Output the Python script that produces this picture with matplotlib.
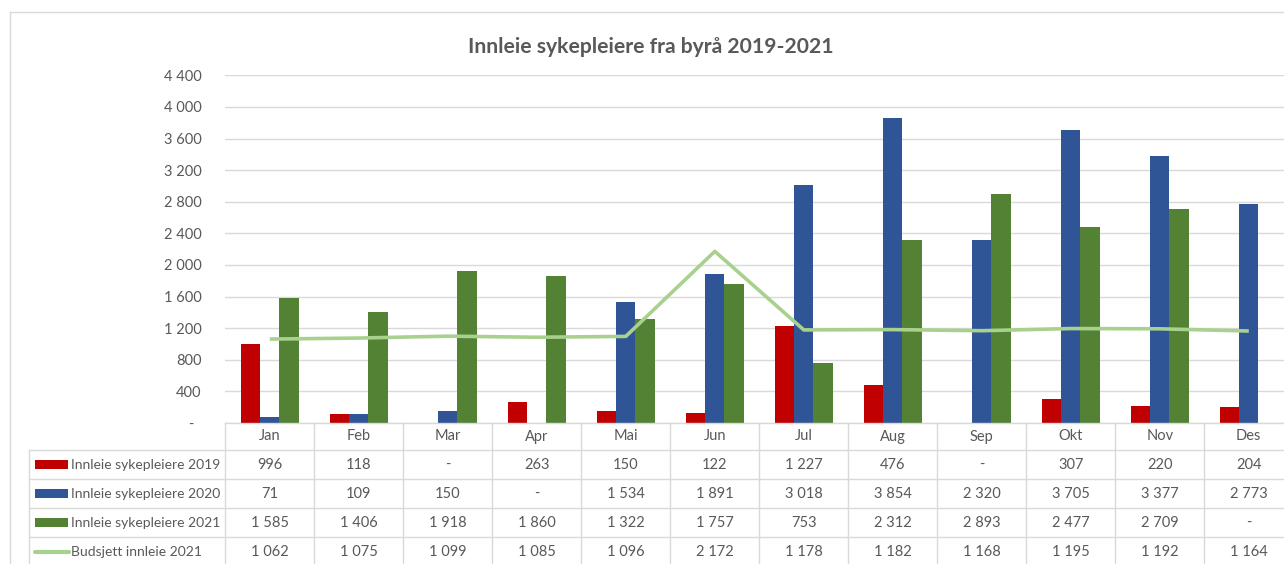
import numpy as np
import matplotlib
matplotlib.use('Agg')
import matplotlib.pyplot as plt
from matplotlib.patches import Rectangle
from matplotlib.lines import Line2D
import matplotlib.transforms as mtrans

plt.rcParams['font.family'] = ['Lato', 'DejaVu Sans']

maaneder = ['Jan', 'Feb', 'Mar', 'Apr', 'Mai', 'Jun', 'Jul', 'Aug', 'Sep', 'Okt', 'Nov', 'Des']
s2019 = [996, 118, np.nan, 263, 150, 122, 1227, 476, np.nan, 307, 220, 204]
s2020 = [71, 109, 150, np.nan, 1534, 1891, 3018, 3854, 2320, 3705, 3377, 2773]
s2021 = [1585, 1406, 1918, 1860, 1322, 1757, 753, 2312, 2893, 2477, 2709, np.nan]
budsjett = [1062, 1075, 1099, 1085, 1096, 2172, 1178, 1182, 1168, 1195, 1192, 1164]
navn = ['Innleie sykepleiere 2019', 'Innleie sykepleiere 2020',
        'Innleie sykepleiere 2021', 'Budsjett innleie 2021']
yticks = [0, 400, 800, 1200, 1600, 2000, 2400, 2800, 3200, 3600, 4000, 4400]
tittel = 'Innleie sykepleiere fra byrå 2019-2021'

W, H = 1284, 564
rod = '#C00000'
blaa = '#2F5597'
gronn = '#548235'
lysgronn = '#A9D18E'
tekst = '#595959'
rutenett = '#D9D9D9'

def fx(x):
    return x / W

def fy(y):
    return 1 - y / H

def fmt(v):
    if v is None or np.isnan(v):
        return '-'
    return '{:,}'.format(int(v)).replace(',', ' ')

fig = plt.figure(figsize=(W / 100, H / 100), dpi=100)

# plot area in pixels
left, right, top, bottom = 225.3, 1293.3, 75.3, 423.0
ax = fig.add_axes([fx(left), fy(bottom), fx(right - left), (bottom - top) / H])

x = np.arange(len(maaneder))
w = 0.217
ax.bar(x - w, s2019, w, color=rod, zorder=3)
ax.bar(x, s2020, w, color=blaa, zorder=3)
ax.bar(x + w, s2021, w, color=gronn, zorder=3)
ax.plot(x, budsjett, color=lysgronn, lw=2.6, zorder=4, solid_capstyle='butt')

ax.set_xlim(-0.5, len(maaneder) - 0.5)
ax.set_ylim(0, 4400)
ax.set_yticks(yticks)
ax.set_yticklabels(['-  '] + [fmt(v) for v in yticks[1:]])
ax.tick_params(axis='y', length=0, pad=17, labelsize=10.5, labelcolor=tekst)
ax.tick_params(axis='x', length=0, labelbottom=False)
ax.grid(axis='y', color=rutenett, lw=1, zorder=0)
for s in ax.spines.values():
    s.set_visible(False)

# outer chart frame
fig.add_artist(Line2D([fx(10), fx(W)], [fy(12), fy(12)], transform=fig.transFigure, color=rutenett, lw=1))
fig.add_artist(Line2D([fx(10), fx(10)], [fy(12), fy(H)], transform=fig.transFigure, color=rutenett, lw=1))

fig.text(fx(651), fy(47), tittel, ha='center', va='center', fontsize=15.2,
         fontweight='bold', color=tekst)

# data table below the axes
tr = mtrans.blended_transform_factory(ax.transData, fig.transFigure)
rad_kant = [450.0, 479.3, 508.3, 537.0, 566.0]
lc = rutenett

fig.add_artist(Line2D([fx(left), fx(W)], [fy(bottom), fy(bottom)], transform=fig.transFigure, color=lc, lw=1))
for yk in rad_kant[:-1]:
    fig.add_artist(Line2D([fx(29.3), fx(W)], [fy(yk), fy(yk)], transform=fig.transFigure, color=lc, lw=1))
fig.add_artist(Line2D([fx(29.3), fx(29.3)], [fy(450), fy(H)], transform=fig.transFigure, color=lc, lw=1))
for i in range(len(maaneder) + 1):
    fig.add_artist(Line2D([i - 0.5, i - 0.5], [fy(bottom), fy(H)], transform=tr, color=lc, lw=1))

for i, m in enumerate(maaneder):
    fig.text(i, fy((bottom + 450) / 2), m, transform=tr, ha='center', va='center',
             fontsize=10.5, color=tekst)

serier = [s2019, s2020, s2021, budsjett]
farger = [rod, blaa, gronn, lysgronn]
for r, (serie, farge, nv) in enumerate(zip(serier, farger, navn)):
    yc = (rad_kant[r] + rad_kant[r + 1]) / 2
    if r < 3:
        fig.add_artist(Rectangle((fx(35), fy(yc + 4.5)), fx(33), 9 / H,
                                 transform=fig.transFigure, color=farge, lw=0))
    else:
        fig.add_artist(Line2D([fx(35), fx(69)], [fy(yc), fy(yc)], transform=fig.transFigure,
                              color=farge, lw=3, solid_capstyle='round'))
    fig.text(fx(71), fy(yc), nv, ha='left', va='center', fontsize=10, color=tekst)
    for i, v in enumerate(serie):
        fig.text(i, fy(yc), fmt(v), transform=tr, ha='center', va='center',
                 fontsize=10.5, color=tekst)

fig.savefig('out.png', dpi=100)
